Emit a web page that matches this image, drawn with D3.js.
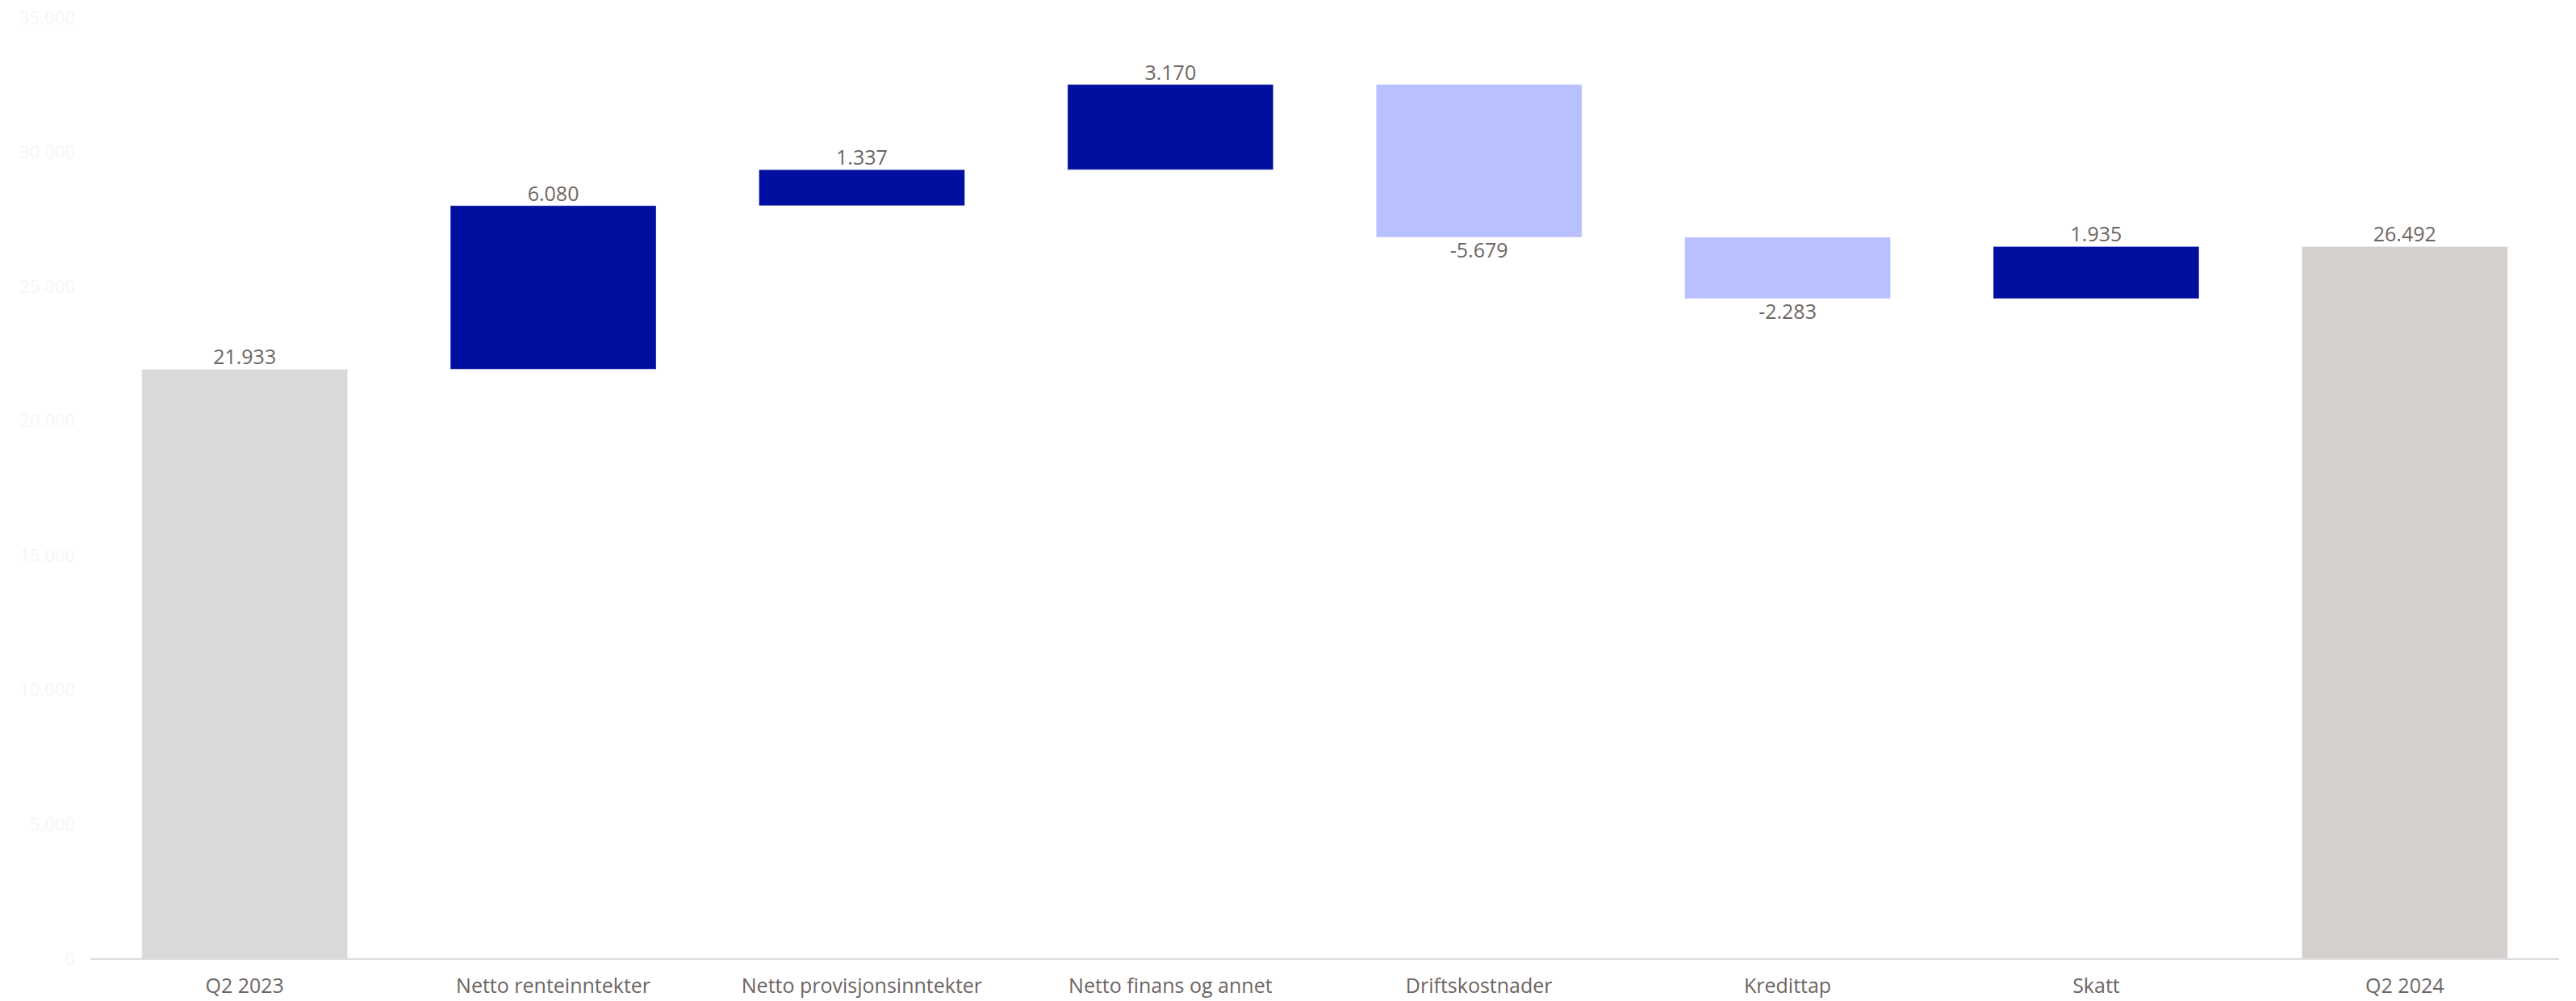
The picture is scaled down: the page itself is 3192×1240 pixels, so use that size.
<!DOCTYPE html>
<html>
<head>
<meta charset="utf-8">
<script src="https://cdn.jsdelivr.net/npm/d3@7/dist/d3.min.js"></script>
<style>
  html, body { margin: 0; padding: 0; background: #ffffff; }
  svg { display: block; }
</style>
</head>
<body>
<svg id="chart" width="3192" height="1240"></svg>
<script>
// ---- Data ----
const categories = ["Q2 2023", "Netto renteinntekter", "Netto provisjonsinntekter", "Netto finans og annet", "Driftskostnader", "Kredittap", "Skatt", "Q2 2024"];
const values = [21933, 6080, 1337, 3170, -5679, -2283, 1935, 26492];
const kinds = ["total", "delta", "delta", "delta", "delta", "delta", "delta", "total"];
const yTicks = [0, 5000, 10000, 15000, 20000, 25000, 30000, 35000];

// ---- Layout ----
const plotLeft = 112, plotRight = 3171, plotTop = 22, plotBottom = 1188;
const colors = { start: "#d9d9d9", end: "#d4d0cd", pos: "#000fa0", neg: "#b8c0ff" };
const textColor = "#6d6562";
const font = "'Open Sans', 'Noto Sans', sans-serif";

const svg = d3.select("#chart");

const x = d3.scaleBand().domain(categories).range([plotLeft, plotRight]).paddingInner(1/3).paddingOuter(1/6);
const y = d3.scaleLinear().domain([0, 35000]).range([plotBottom, plotTop]);

// compute waterfall extents
let running = 0;
const bars = categories.map((c, i) => {
  let y0, y1, color;
  if (kinds[i] === "total") {
    y0 = 0; y1 = values[i]; running = values[i];
    color = i === 0 ? colors.start : colors.end;
  } else {
    y0 = running; y1 = running + values[i]; running = y1;
    color = values[i] >= 0 ? colors.pos : colors.neg;
  }
  return { cat: c, v: values[i], lo: Math.min(y0, y1), hi: Math.max(y0, y1), color };
});

// y axis labels (very faint)
const yAxis = d3.axisLeft(y).tickValues(yTicks).tickSize(0).tickPadding(0)
  .tickFormat(d => d3.format(",")(d).replace(/,/g, "."));
const yg = svg.append("g").attr("transform", `translate(93,0)`).call(yAxis);
yg.select(".domain").remove();
yg.selectAll("text").attr("fill", "#f6f6f6").style("font-family", font).style("font-size", "22px");

// bars
svg.append("g").selectAll("rect").data(bars).join("rect")
  .attr("x", d => x(d.cat))
  .attr("width", x.bandwidth())
  .attr("y", d => y(d.hi))
  .attr("height", d => y(d.lo) - y(d.hi))
  .attr("fill", d => d.color)
  .attr("stroke", "rgba(255,255,255,0.35)")
  .attr("stroke-width", 1);

// x axis
const xAxis = d3.axisBottom(x).tickSize(0).tickPadding(0);
const xg = svg.append("g").attr("transform", `translate(0,${plotBottom})`).call(xAxis);
xg.select(".domain").attr("stroke", "#dcdcdc").attr("stroke-width", 2).attr("d", `M${plotLeft},0H${plotRight}`);
xg.selectAll("text").attr("fill", textColor).style("font-family", font).style("font-size", "25px")
  .attr("y", 42).attr("dy", null);

// value labels
const fmt = v => d3.format(",")(v).replace(/,/g, ".").replace("−", "-");
svg.append("g").selectAll("text").data(bars).join("text")
  .attr("x", d => x(d.cat) + x.bandwidth() / 2)
  .attr("y", d => d.v >= 0 ? y(d.hi) - 6 : y(d.lo) + 25)
  .attr("text-anchor", "middle")
  .attr("fill", textColor)
  .style("font-family", font)
  .style("font-size", "25px")
  .text(d => fmt(d.v));
</script>
</body>
</html>
